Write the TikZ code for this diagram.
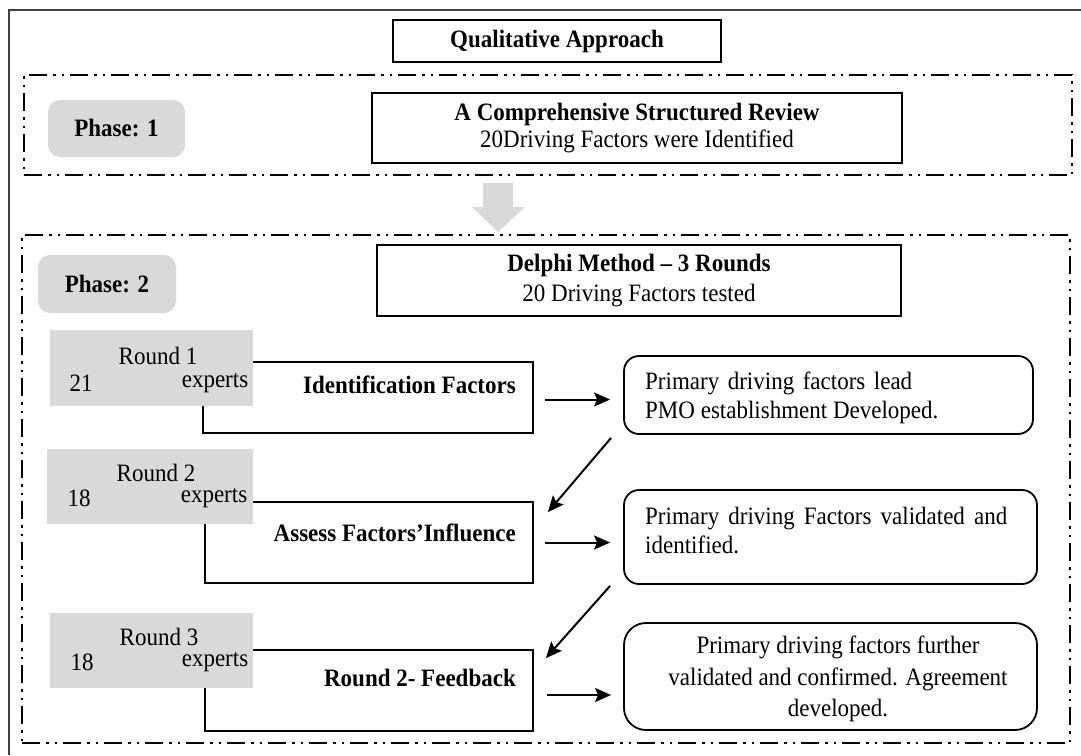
\documentclass[tikz,border=0pt]{standalone}
\usepackage{fontspec}
\setmainfont{Liberation Serif}[FakeStretch=0.92]
\usetikzlibrary{calc,arrows.meta}
\definecolor{lgray}{HTML}{D9D9D9}
\definecolor{framegray}{HTML}{404040}
\begin{document}
\begin{tikzpicture}[x=1pt,y=-1pt,
  txt/.style={font=\fontsize{25}{29}\selectfont, inner sep=0pt},
  btxt/.style={font=\fontsize{25}{29}\selectfont\bfseries, inner sep=0pt},
  plainbox/.style={draw=black, line width=1.8pt, fill=white, inner sep=0pt, align=center},
  greybox/.style={fill=lgray, draw=none, inner sep=0pt},
  phasebox/.style={fill=lgray, draw=none, rounded corners=12pt, inner sep=0pt, font=\fontsize{25}{29}\selectfont\bfseries},
  resbox/.style={draw=black, line width=1.8pt, fill=white, rounded corners=15pt, inner sep=0pt},
  dashbox/.style={draw=black, line width=2.4pt, inner sep=0pt,
    dash pattern=on 18pt off 6pt on 2.5pt off 6pt on 2.5pt off 6pt},
  conn/.style={-{Stealth[length=16pt,width=14pt,inset=3pt]}, line width=2pt},
  frame/.style={draw=framegray, line width=2.5pt}
]
\useasboundingbox (0,0) rectangle (1081,755);
% outer frame (cut by the page edge)
\draw[frame] (9,755) -- (9,10) -- (1081,10);

% title
\node[plainbox, minimum width=328pt, minimum height=42pt, font=\fontsize{25}{29}\selectfont\bfseries] (title) at (557,41) {Qualitative Approach};

% phase frames
\node[dashbox, minimum width=1048pt, minimum height=100pt] (ph1) at (548,125) {};
\node[dashbox, minimum width=1048pt, minimum height=508pt] (ph2) at (546,489) {};

% big grey arrow between phases
\fill[lgray] (483,183) -- (513,183) -- (513,207) -- (525,207) -- (498,232) -- (472,207) -- (483,207) -- cycle;

% phase 1
\node[phasebox, minimum width=137pt, minimum height=57pt] (p1) at (116.5,128.5) {Phase: 1};
\node[plainbox, minimum width=530pt, minimum height=70pt, font=\fontsize{25}{27}\selectfont] (review) at (637,128)
  {\textbf{A Comprehensive Structured Review}\\20Driving Factors were Identified};

% phase 2
\node[plainbox, minimum width=524pt, minimum height=71pt, font=\fontsize{25}{30}\selectfont] (delphi) at (639,280.5)
  {\textbf{Delphi Method -- 3 Rounds}\\20 Driving Factors tested};
\node[phasebox, minimum width=138pt, minimum height=58pt] (p2) at (107,284) {Phase: 2};

% round boxes (outline first, grey label on top)
\node[plainbox, minimum width=330pt, minimum height=71pt] (ident) at (368,397.5) {};
\node[plainbox, minimum width=328pt, minimum height=81pt] (assess) at (369,542.5) {};
\node[plainbox, minimum width=328pt, minimum height=81pt] (feedback) at (369,690.5) {};

\node[greybox, minimum width=203pt, minimum height=76pt] (r1) at (151.5,368) {};
\node[greybox, minimum width=206pt, minimum height=75pt] (r2) at (150,486.5) {};
\node[greybox, minimum width=203pt, minimum height=75pt] (r3) at (151.5,650.5) {};

\node[txt] (r1a) at (158,356) {Round 1};
\node[txt] (r1b) at (81,383) {21};
\node[txt] (r1c) at (215,383) {experts};
\node[txt] (r2a) at (156,473) {Round 2};
\node[txt] (r2b) at (79,498) {18};
\node[txt] (r2c) at (214,498) {experts};
\node[txt] (r3a) at (159,637) {Round 3};
\node[txt] (r3b) at (82,662) {18};
\node[txt] (r3c) at (215,662) {experts};

\node[btxt, anchor=east] (identt) at (516,385) {Identification Factors};
\node[btxt, anchor=east] (assesst) at (516,533) {Assess Factors'Influence};
\node[btxt, anchor=east] (feedbackt) at (516,678) {Round 2- Feedback};

% result boxes
\node[resbox, minimum width=409pt, minimum height=78pt] (rb1) at (828.5,395) {};
\node[resbox, minimum width=413pt, minimum height=94pt] (rb2) at (830.5,537) {};
\node[resbox, minimum width=413pt, minimum height=107pt, rounded corners=22pt] (rb3) at (830.5,676.5) {};

\node[txt, anchor=west, align=left] (rb1t) at (645,397.5)
  {\makebox[267pt][s]{Primary driving factors lead}\\PMO establishment Developed.};
\node[txt, anchor=west, align=left] (rb2t) at (645,530)
  {\makebox[362pt][s]{Primary driving Factors validated and}\\identified.};
\node[txt, align=center, font=\fontsize{25}{31.5}\selectfont] (rb3t) at (838,679)
  {Primary driving factors further\\validated and confirmed. Agreement\\developed.};

% connectors
\draw[conn, shorten <=11pt, shorten >=13pt] ($(ident.east)+(0,2)$) -- ($(ident.east -| rb1.west)+(0,2)$);
\draw[conn, shorten <=11pt, shorten >=13pt] (assess.east) -- (assess.east -| rb2.west);
\draw[conn, shorten <=13pt, shorten >=12pt] ($(feedback.east)+(0,4.5)$) -- ($(feedback.east -| rb3.west)+(0,4.5)$);
\draw[conn] ($(rb1.south west)+(-12,3)$) -- ($(assess.north east)+(14,11)$);
\draw[conn] ($(rb2.south west)+(-13,1)$) -- ($(feedback.north east)+(12,9)$);
\end{tikzpicture}
\end{document}
